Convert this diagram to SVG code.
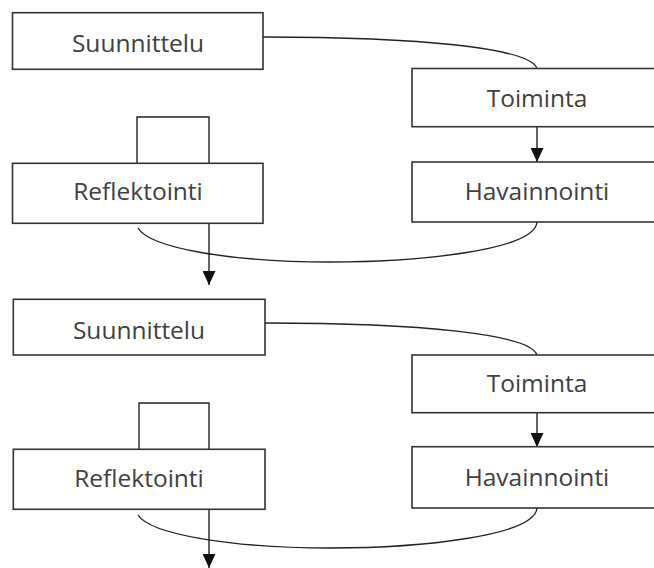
<svg xmlns="http://www.w3.org/2000/svg" width="654" height="568" viewBox="0 0 654 568">
<defs>
<style>
.box{fill:#fff;stroke:#333;stroke-width:1.6}
.lbl{font-family:"Open Sans","Liberation Sans",sans-serif;font-size:24.5px;fill:#404040;text-anchor:middle}
.con{fill:none;stroke:#222;stroke-width:1.4}
</style>
<marker id="ah" viewBox="0 0 14 13" refX="14" refY="6.5" markerWidth="14" markerHeight="13" markerUnits="userSpaceOnUse" orient="auto">
<path d="M0,0 L14,6.5 L0,13 Z" fill="#111"/>
</marker>
</defs>
<rect width="654" height="568" fill="#fff"/>
<g id="connectors">
<path class="con" d="M263,37 C420,37 530,48 537,68.5"/>
<path class="con" d="M537,127 L537,162" marker-end="url(#ah)"/>
<path class="con" d="M537,222 C535,250 420,262 330,262 C230,262 150,248 138,228"/>
<path class="con" d="M137,163 L137,117 L209,117 L209,163"/>
<path class="con" d="M209,223 L209,285" marker-end="url(#ah)"/>
<path class="con" d="M265,323 C420,323 530,334 537,355"/>
<path class="con" d="M537,413 L537,447" marker-end="url(#ah)"/>
<path class="con" d="M537,508 C535,536 420,548 330,548 C230,548 150,534 138,515"/>
<path class="con" d="M139,449 L139,403 L209,403 L209,449"/>
<path class="con" d="M209,509.5 L209,568" marker-end="url(#ah)"/>
</g>
<g id="suunnittelu1"><rect class="box" x="12.5" y="12.7" width="250.5" height="56.6"/><text class="lbl" x="138" y="52">Suunnittelu</text></g>
<g id="toiminta1"><rect class="box" x="412" y="68.5" width="250" height="58.2"/><text class="lbl" x="537" y="107">Toiminta</text></g>
<g id="havainnointi1"><rect class="box" x="412" y="162" width="250" height="60"/><text class="lbl" x="537" y="200">Havainnointi</text></g>
<g id="reflektointi1"><rect class="box" x="12.5" y="163.3" width="250.5" height="60"/><text class="lbl" x="138" y="200">Reflektointi</text></g>
<g id="suunnittelu2"><rect class="box" x="13.3" y="299.3" width="251.7" height="55.7"/><text class="lbl" x="139" y="339">Suunnittelu</text></g>
<g id="toiminta2"><rect class="box" x="412" y="355" width="250" height="57.7"/><text class="lbl" x="537" y="392">Toiminta</text></g>
<g id="havainnointi2"><rect class="box" x="412" y="446.7" width="250" height="61.3"/><text class="lbl" x="537" y="486">Havainnointi</text></g>
<g id="reflektointi2"><rect class="box" x="13.3" y="449.3" width="251.7" height="60"/><text class="lbl" x="139" y="487">Reflektointi</text></g>
</svg>
